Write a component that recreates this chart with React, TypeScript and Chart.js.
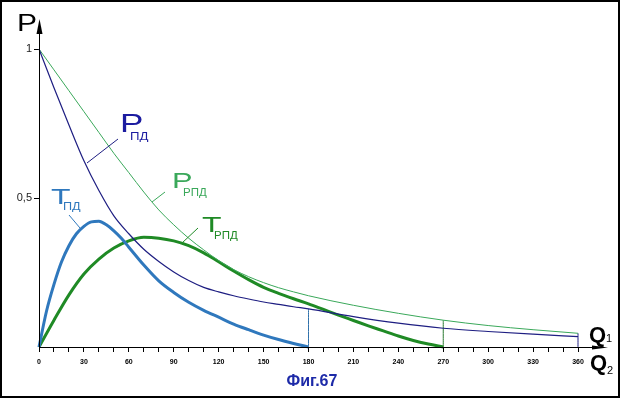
import React, { useEffect, useRef } from "react";
import { Chart, registerables } from "chart.js";

Chart.register(...registerables);

// Q axis values (shared by the P-curves)
const qP = [0, 10, 20, 30, 40, 50, 60, 70, 80, 90, 100, 110, 120, 130, 140, 150, 160, 170, 180, 210, 240, 270, 300, 330, 360];
const pPd = [1, 0.87, 0.745, 0.625, 0.525, 0.44, 0.38, 0.328, 0.287, 0.252, 0.223, 0.2, 0.185, 0.172, 0.161, 0.151, 0.143, 0.135, 0.128, 0.102, 0.08, 0.063, 0.052, 0.043, 0.035];
const pRpd = [1, 0.93, 0.86, 0.79, 0.72, 0.65, 0.585, 0.52, 0.46, 0.41, 0.365, 0.326, 0.29, 0.26, 0.236, 0.216, 0.199, 0.185, 0.172, 0.14, 0.113, 0.09, 0.072, 0.058, 0.046];

const qTpd = [0, 5, 10, 15, 20, 25, 30, 35, 40, 45, 50, 55, 60, 70, 80, 90, 100, 110, 120, 130, 140, 150, 160, 170, 180];
const tPd = [0, 0.12, 0.21, 0.285, 0.34, 0.38, 0.405, 0.42, 0.422, 0.41, 0.39, 0.365, 0.335, 0.275, 0.222, 0.183, 0.15, 0.123, 0.1, 0.077, 0.058, 0.04, 0.025, 0.012, 0];

const qTrpd = [0, 10, 20, 30, 40, 50, 60, 70, 80, 90, 100, 110, 120, 130, 140, 150, 160, 170, 180, 190, 200, 210, 220, 230, 240, 250, 260, 270];
const tRpd = [0, 0.09, 0.175, 0.245, 0.295, 0.332, 0.356, 0.368, 0.365, 0.356, 0.34, 0.316, 0.286, 0.255, 0.226, 0.2, 0.18, 0.162, 0.145, 0.126, 0.107, 0.089, 0.071, 0.054, 0.037, 0.022, 0.01, 0];

// marker verticals (Q values)
const markQ = [180, 270, 360];

const xTickValues = Array.from({ length: 37 }, (_, i) => i * 10);
const xLabelStep = 30;
const yTickValues = [0.5, 1];
const yTickLabels = ["0,5", "1"];

const NAVY = "#1e1e82";
const BLUE = "#2f78bd";
const LGREEN = "#3aa85a";
const DGREEN = "#1f8a25";

function pts(xs: number[], ys: number[]) {
  return xs.map((x, i) => ({ x, y: ys[i] }));
}

function valAt(xs: number[], ys: number[], q: number) {
  const i = xs.indexOf(q);
  return ys[i];
}

const overlay = {
  id: "overlay",
  afterDraw(chart: any) {
    const ctx = chart.ctx as CanvasRenderingContext2D;
    const { left, bottom } = chart.chartArea;
    ctx.save();
    // axis extensions + arrows
    ctx.strokeStyle = "#000";
    ctx.fillStyle = "#000";
    ctx.lineWidth = 1;
    ctx.beginPath();
    ctx.moveTo(left + 0.5, bottom);
    ctx.lineTo(left + 0.5, 24);
    ctx.moveTo(left, bottom + 0.5);
    ctx.lineTo(596, bottom + 0.5);
    ctx.stroke();
    ctx.beginPath();
    ctx.moveTo(left + 0.5, 19);
    ctx.lineTo(left - 2.5, 34);
    ctx.lineTo(left + 3.5, 34);
    ctx.closePath();
    ctx.fill();
    ctx.beginPath();
    ctx.moveTo(608, bottom + 0.5);
    ctx.lineTo(592, bottom - 1.5);
    ctx.lineTo(592, bottom + 2.5);
    ctx.closePath();
    ctx.fill();

    const sText = (t: string, x: number, y: number, font: string, color: string, sx: number) => {
      ctx.save();
      ctx.font = font;
      ctx.fillStyle = color;
      ctx.textBaseline = "alphabetic";
      ctx.translate(x, y);
      ctx.scale(sx, 1);
      ctx.fillText(t, 0, 0);
      ctx.restore();
    };
    const line = (x1: number, y1: number, x2: number, y2: number, color: string) => {
      ctx.strokeStyle = color;
      ctx.lineWidth = 1;
      ctx.beginPath();
      ctx.moveTo(x1, y1);
      ctx.lineTo(x2, y2);
      ctx.stroke();
    };
    const F = "'Liberation Sans', Arial, sans-serif";

    // axis names
    sText("P", 17, 31, `24px ${F}`, "#000", 1.25);
    sText("Q", 589, 342, `bold 22px ${F}`, "#000", 1.0);
    sText("1", 606, 342, `11px ${F}`, "#000", 1.0);
    sText("Q", 590, 370, `bold 22px ${F}`, "#000", 1.0);
    sText("2", 607, 374, `11px ${F}`, "#000", 1.0);

    // curve labels
    sText("P", 120, 132, `26px ${F}`, "#1c1ca0", 1.35);
    sText("ПД", 130, 140, `11px ${F}`, "#1c1ca0", 1.2);
    line(87, 163, 118, 139, NAVY);

    sText("P", 172, 188, `22px ${F}`, LGREEN, 1.4);
    sText("РПД", 183, 196, `10px ${F}`, LGREEN, 1.15);
    line(152, 202, 165, 192, LGREEN);

    sText("T", 51, 204, `22px ${F}`, BLUE, 1.45);
    sText("ПД", 63, 209.5, `11px ${F}`, BLUE, 1.15);
    line(69, 215, 80, 228, BLUE);

    sText("T", 202, 232, `22px ${F}`, DGREEN, 1.45);
    sText("РПД", 214, 238.5, `10px ${F}`, DGREEN, 1.15);
    line(182, 243, 198, 228, DGREEN);

    // figure caption
    ctx.font = `bold 16px ${F}`;
    ctx.fillStyle = "#1d2aa8";
    ctx.textAlign = "center";
    ctx.fillText("Фиг.67", 312, 386);

    // frame
    ctx.strokeStyle = "#000";
    ctx.lineWidth = 2;
    ctx.strokeRect(1, 1, 618, 396);
    ctx.restore();
  },
};

export default function App() {
  const ref = useRef<HTMLCanvasElement>(null);
  useEffect(() => {
    const canvas = ref.current!;
    const chart = new Chart(canvas, {
      type: "line",
      data: {
        datasets: [
          { label: "Pпд", data: pts(qP, pPd), borderColor: NAVY, borderWidth: 1.2 },
          { label: "Pрпд", data: pts(qP, pRpd), borderColor: LGREEN, borderWidth: 1 },
          { label: "vline180", data: [{ x: markQ[0], y: 0 }, { x: markQ[0], y: valAt(qP, pPd, markQ[0]) }], borderColor: "#2f70aa", borderWidth: 1 },
          { label: "vline270", data: [{ x: markQ[1], y: 0 }, { x: markQ[1], y: valAt(qP, pRpd, markQ[1]) }], borderColor: "#2a7a30", borderWidth: 1 },
          { label: "vline360", data: [{ x: markQ[2], y: 0 }, { x: markQ[2], y: valAt(qP, pRpd, markQ[2]) }], borderColor: NAVY, borderWidth: 1 },
          { label: "Tпд", data: pts(qTpd, tPd), borderColor: BLUE, borderWidth: 3 },
          { label: "Tрпд", data: pts(qTrpd, tRpd), borderColor: DGREEN, borderWidth: 3 },
        ].map((d: any) => ({ ...d, pointRadius: 0, fill: false, cubicInterpolationMode: "monotone" })),
      },
      options: {
        animation: false,
        responsive: false,
        clip: false as any,
        layout: { padding: { top: 49, right: 42, left: 0, bottom: 0 } },
        plugins: { legend: { display: false }, tooltip: { enabled: false } },
        scales: {
          x: {
            type: "linear",
            min: 0,
            max: 360,
            afterFit: (s: any) => { s.height = 51; },
            afterBuildTicks: (s: any) => { s.ticks = xTickValues.map((v) => ({ value: v })); },
            border: { display: true, color: "#000", width: 1 },
            grid: { display: true, drawOnChartArea: false, drawTicks: true, tickLength: 5, color: "#000" },
            ticks: {
              autoSkip: false,
              maxRotation: 0,
              padding: 6,
              color: "#000",
              font: { family: "'Liberation Sans', Arial, sans-serif", size: 7, weight: "bold" },
              callback: (v: any) => (Number(v) % xLabelStep === 0 ? String(v) : ""),
            },
          },
          y: {
            type: "linear",
            min: 0,
            max: 1,
            afterFit: (s: any) => { s.width = 39; },
            afterBuildTicks: (s: any) => { s.ticks = yTickValues.map((v) => ({ value: v })); },
            border: { display: true, color: "#000", width: 1 },
            grid: { display: true, drawOnChartArea: false, drawTicks: true, tickLength: 5, color: "#000" },
            ticks: {
              padding: 2,
              color: "#222",
              font: { family: "'Liberation Sans', Arial, sans-serif", size: 11 },
              callback: (v: any) => {
                const i = yTickValues.indexOf(Number(v));
                return i >= 0 ? yTickLabels[i] : "";
              },
            },
          },
        },
      },
      plugins: [overlay],
    } as any);
    return () => chart.destroy();
  }, []);
  return (
    <div style={{ position: "fixed", left: 0, top: 0, width: 620, height: 398, background: "#fff" }}>
      <canvas ref={ref} width={620} height={398} style={{ width: 620, height: 398, display: "block" }} />
    </div>
  );
}
